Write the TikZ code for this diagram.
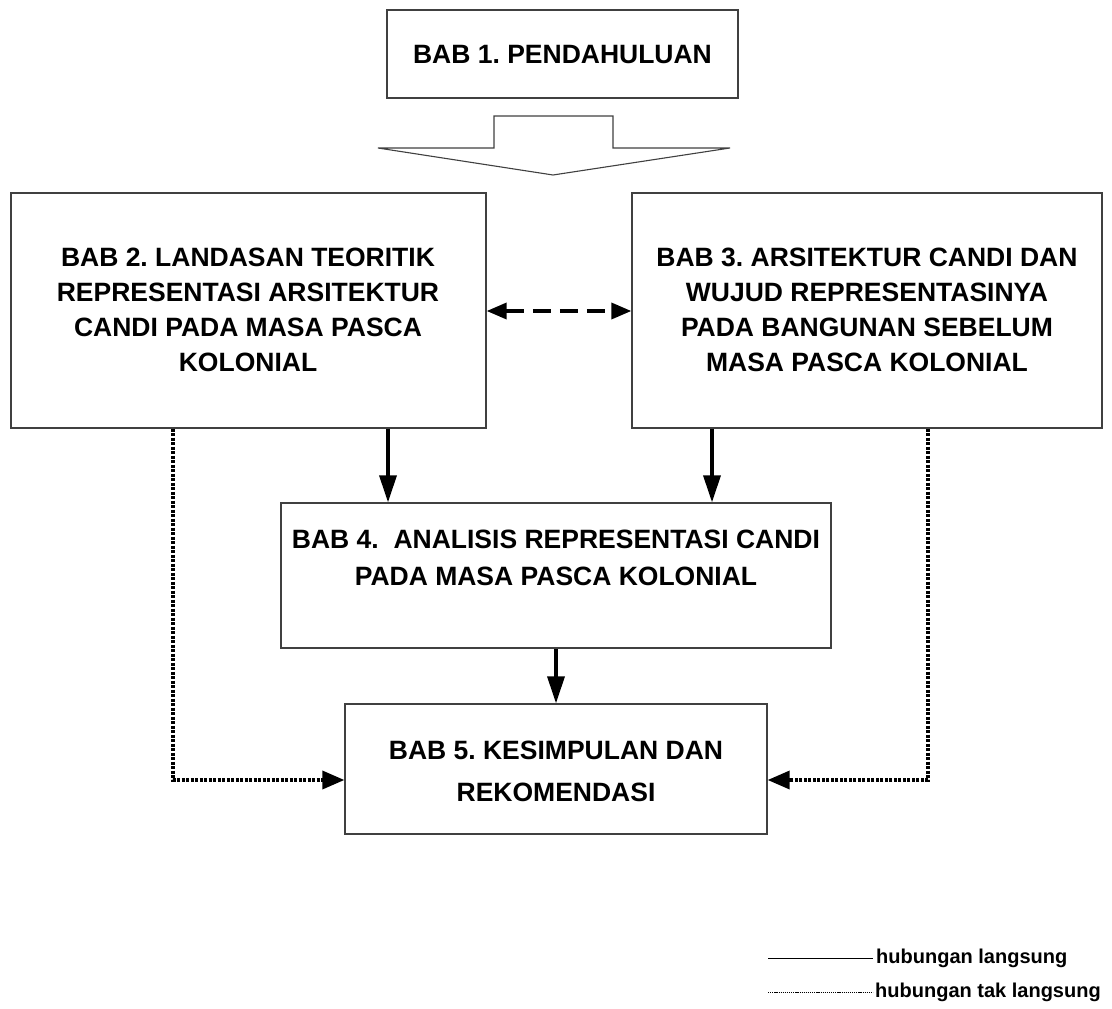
\documentclass[tikz,border=0pt]{standalone}
\usepackage{fontspec}
\setmainfont{Liberation Sans}
\usetikzlibrary{arrows.meta,calc}
\frenchspacing
\tikzset{
  box/.style={draw=black!75, line width=1.3pt, fill=white, inner sep=0pt},
  bigtxt/.style={font=\fontsize{26.5}{35}\selectfont\bfseries, align=center, inner sep=0pt},
  legtxt/.style={font=\fontsize{20}{24}\selectfont\bfseries, inner sep=0pt, anchor=west},
  solidarrow/.style={line width=3.5pt, -{Triangle[length=27pt,width=17pt]}},
  dasharrow/.style={line width=3.5pt, dash pattern=on 18pt off 9pt, {Triangle[length=20pt,width=16pt]}-{Triangle[length=20pt,width=16pt]}},
  dotarrow/.style={line width=3.5pt, dash pattern=on 3pt off 1.5pt, -{Triangle[length=22pt,width=18pt]}},
}
\begin{document}
\begin{tikzpicture}[x=1pt,y=-1pt]
\useasboundingbox (0,0) rectangle (1112,1009);
% boxes
\node[box, minimum width=351pt, minimum height=88pt] (b1) at (562.5,54) {};
\node[bigtxt] (t1) at (562.5,55) {BAB 1. PENDAHULUAN};
\node[box, minimum width=475pt, minimum height=235pt] (b2) at (248.5,310.5) {};
\node[bigtxt] (t2) at (248,310) {BAB 2. LANDASAN TEORITIK\\REPRESENTASI ARSITEKTUR\\CANDI PADA MASA PASCA\\KOLONIAL};
\node[box, minimum width=470pt, minimum height=235pt] (b3) at (867,310.5) {};
\node[bigtxt] (t3) at (867,310) {BAB 3. ARSITEKTUR CANDI DAN\\WUJUD REPRESENTASINYA\\PADA BANGUNAN SEBELUM\\MASA PASCA KOLONIAL};
\node[box, minimum width=550pt, minimum height=145pt] (b4) at (556,575.5) {};
\node[bigtxt, font=\fontsize{26.5}{37}\selectfont\bfseries] (t4) at (556,557.5) {BAB 4.\ \ ANALISIS REPRESENTASI CANDI\\PADA MASA PASCA KOLONIAL};
\node[box, minimum width=422pt, minimum height=130pt] (b5) at (556,769) {};
\node[bigtxt, font=\fontsize{26.5}{42}\selectfont\bfseries] (t5) at (556,771) {BAB 5. KESIMPULAN DAN\\REKOMENDASI};
% block arrow
\draw[draw=black!75, line width=1.1pt, fill=white] (494,148) -- (494,116) -- (613,116) -- (613,148) -- (730,148) -- (553,175) -- (378,148) -- cycle;
% connectors
\draw[dasharrow] (b2.east |- 0,311) -- (b3.west |- 0,311);
\draw[solidarrow] (388,0 |- b2.south) -- (388,0 |- b4.north);
\draw[solidarrow] (712,0 |- b3.south) -- (712,0 |- b4.north);
\draw[solidarrow] (b4.south) -- (b5.north);
\draw[dotarrow] (173,0 |- b2.south) -- (173,780) -- (b5.west |- 0,780);
\draw[dotarrow] (928,0 |- b3.south) -- (928,780) -- (b5.east |- 0,780);
% legend
\coordinate (l1a) at (768,958);
\coordinate (l2a) at (768,992);
\node[legtxt] (g1) at (876,958) {hubungan langsung};
\node[legtxt] (g2) at (875,992) {hubungan tak langsung};
\draw[line width=1pt] (l1a) -- (g1.west -| 873,0);
\draw[line width=0.8pt, dash pattern=on 1.2pt off 0.9pt] (l2a) -- (g2.west -| 873,0);
\end{tikzpicture}
\end{document}
